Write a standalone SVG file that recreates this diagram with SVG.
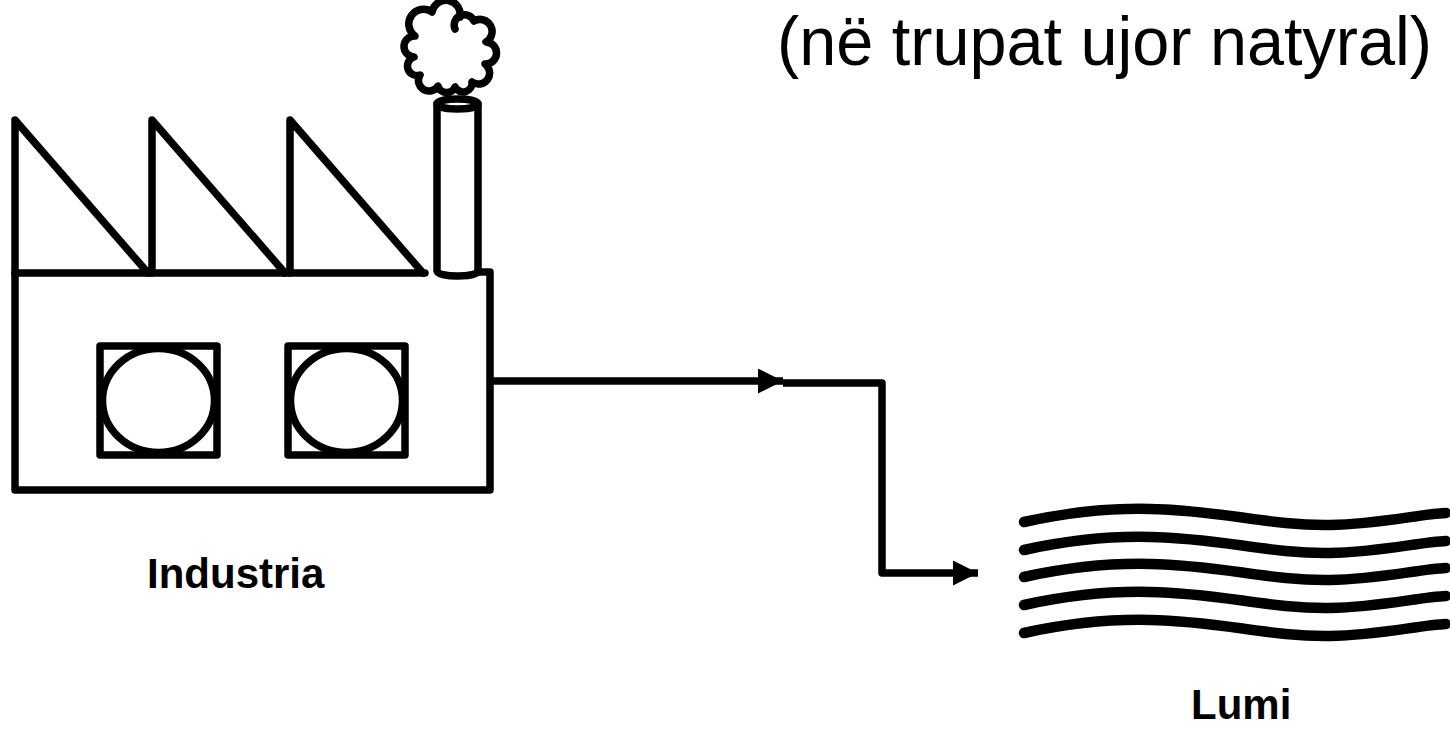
<svg xmlns="http://www.w3.org/2000/svg" width="1450" height="729" viewBox="0 0 1450 729">
<defs>
<style>
.ln{fill:none;stroke:#000;stroke-width:7.5;stroke-linejoin:round;stroke-linecap:round}
.wh{fill:#fff;stroke:#000;stroke-width:7.5;stroke-linejoin:round;stroke-linecap:round}
.wave{fill:none;stroke:#000;stroke-width:10.5;stroke-linecap:round}
.lbl{font-family:"Liberation Sans",Arial,sans-serif;font-weight:bold;font-size:42px;fill:#000}
.ttl{font-family:"Liberation Sans",Arial,sans-serif;font-size:68px;fill:#000}
</style>
<marker id="ah" markerUnits="userSpaceOnUse" markerWidth="25" markerHeight="25" viewBox="0 0 24 24" refX="24" refY="12" orient="auto">
<path d="M0,0 L24,12 L0,24 Z" fill="#000"/>
</marker>
<path id="wv" d="M1024,522 C1070,512 1110,508 1150,509 C1220,510 1270,526 1330,525 C1380,524 1420,514 1446,513"/>
</defs>
<rect width="1450" height="729" fill="#fff"/>
<text class="ttl" x="777" y="65" textLength="655" lengthAdjust="spacingAndGlyphs">(në trupat ujor natyral)</text>
<g id="industria">
<path class="ln" d="M15,273 L15,120 L148,273 M152,273 L152,120 L285,273 M290,273 L290,120 L423,273"/>
<path class="ln" d="M15,273 L425,273"/>
<path class="ln" d="M478,272 L490,272 L490,490 L15,490 L15,273"/>
<path class="ln" d="M437,104 L437,271 A20.5,5 0 0 0 478,271 L478,104"/>
<ellipse class="ln" cx="457.5" cy="104" rx="20.5" ry="5"/>
<path class="wh" d="M455,29 A10,10 0 0 1 474,21 A11,11 0 0 1 486,42 A10,10 0 0 1 485,64 A10,10 0 0 1 472,82 A9,9 0 0 1 455,87 A9,9 0 0 1 438,86 A10,10 0 0 1 420,75 A9,9 0 0 1 414,57 A9,9 0 0 1 415,36 A12,12 0 0 1 432,12 A12,12 0 0 1 460,17"/>
<rect class="ln" x="100" y="346" width="117" height="109"/>
<ellipse class="ln" cx="158.5" cy="400.5" rx="56" ry="52"/>
<rect class="ln" x="288" y="346" width="117" height="109"/>
<ellipse class="ln" cx="346.5" cy="400.5" rx="56" ry="52"/>
<text class="lbl" x="147" y="588">Industria</text>
</g>
<g id="lumi">
<use href="#wv" class="wave"/>
<use href="#wv" class="wave" y="28"/>
<use href="#wv" class="wave" y="55"/>
<use href="#wv" class="wave" y="83"/>
<use href="#wv" class="wave" y="111"/>
<text class="lbl" x="1191" y="719">Lumi</text>
</g>
<g id="connectors">
<path class="ln" style="stroke-linecap:butt" d="M489,381 L783,381" marker-end="url(#ah)"/>
<path class="ln" style="stroke-linecap:butt" d="M783,383 L882,383 L882,573 L978,573" marker-end="url(#ah)"/>
</g>
</svg>
